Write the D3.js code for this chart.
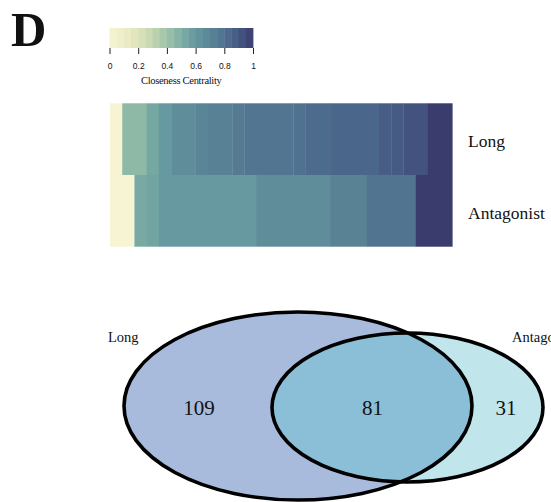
<!DOCTYPE html>
<html>
<head>
<meta charset="utf-8">
<script src="https://cdn.jsdelivr.net/npm/d3@7"></script>
<style>
  html, body { margin: 0; padding: 0; background: #fff; }
  svg { display: block; }
  text { font-family: "Liberation Serif", "Times New Roman", serif; fill: #111; }
</style>
</head>
<body>
<svg id="chart" width="551" height="502"></svg>
<script>
// Closeness centrality of the nodes in each network, sorted ascending
const rowNames = ["Long", "Antagonist"];
const longCentrality = [
  0,
  0.45, 0.45,
  0.53,
  0.60,
  0.66, 0.66,
  0.70,
  0.72, 0.72,
  0.75,
  0.77, 0.77, 0.77, 0.77,
  0.79,
  0.82, 0.82,
  0.84, 0.84, 0.84, 0.84,
  0.88,
  0.89,
  0.92, 0.92,
  1, 1
];
const antagonistCentrality = [
  0, 0,
  0.52,
  0.55,
  0.60, 0.60, 0.60, 0.60, 0.60, 0.60, 0.60, 0.60,
  0.66, 0.66, 0.66, 0.66, 0.66, 0.66,
  0.71, 0.71, 0.71,
  0.78, 0.78, 0.78, 0.78,
  1, 1, 1
];

// Colour ramp for the centrality legend
const rampStops = [0, 0.1, 0.2, 0.3, 0.4, 0.5, 0.6, 0.7, 0.8, 0.9, 1];
const rampColors = ["#f7f4d3", "#eeedc8", "#dce3bc", "#c2d6b1", "#9fc3aa",
                    "#7daea4", "#6699a0", "#5a8596", "#4f7090", "#465883", "#3a3c6d"];
const legendTicks = [0, 0.2, 0.4, 0.6, 0.8, 1];
const legendTitle = "Closeness Centrality";
const legendSteps = 20;

// Venn diagram counts
const vennSets = ["Long", "Antagonist"];
const vennCounts = { onlyLong: 109, both: 81, onlyAntagonist: 31 };
const vennColors = { long: "#a8bbdc", both: "#8bbfd8", antagonist: "#c0e6ec" };

const svg = d3.select("#chart");

const color = d3.scaleLinear().domain(rampStops).range(rampColors)
  .interpolate(d3.interpolateRgb).clamp(true);

// Panel letter
svg.append("text")
  .attr("x", 11).attr("y", 46)
  .style("font-size", "49px").style("font-weight", "bold")
  .text("D");

// ---- Colour legend ----
const legX = d3.scaleLinear().domain([0, 1]).range([109.5, 253]);
const legTop = 28, legBottom = 48;
const stepW = (legX(1) - legX(0)) / legendSteps;
svg.append("g").selectAll("rect")
  .data(d3.range(legendSteps))
  .join("rect")
  .attr("x", i => legX(0) + i * stepW)
  .attr("y", legTop)
  .attr("width", stepW + 0.4)
  .attr("height", legBottom - legTop)
  .attr("fill", i => color((i + 0.5) / legendSteps));

const legAxis = svg.append("g")
  .attr("transform", `translate(0,${legBottom})`)
  .call(d3.axisBottom(legX).tickValues(legendTicks)
        .tickFormat(d3.format("~g")).tickSize(6).tickPadding(9));
legAxis.select(".domain").remove();
legAxis.selectAll("line").attr("stroke", "#222").attr("stroke-width", 1);
legAxis.selectAll("text")
  .style("font-family", "'Liberation Sans', Arial, sans-serif")
  .style("font-size", "8.5px").attr("fill", "#222");

svg.append("text")
  .attr("x", legX(0.5)).attr("y", 84)
  .attr("text-anchor", "middle")
  .style("font-size", "10.5px").style("letter-spacing", "-0.3px")
  .text(legendTitle);

// ---- Centrality heatmap ----
const nCols = longCentrality.length;
const hx = d3.scaleLinear().domain([0, nCols]).range([110, 452.3]);
const hy = d3.scaleBand().domain(rowNames).range([103.3, 246.7]);

// merge consecutive equal values into runs so each block is drawn once
function runs(values) {
  const out = [];
  values.forEach((v, i) => {
    const last = out[out.length - 1];
    if (last && last.value === v) last.end = i + 1;
    else out.push({ value: v, start: i, end: i + 1 });
  });
  return out;
}

const rows = [
  { name: rowNames[0], values: longCentrality },
  { name: rowNames[1], values: antagonistCentrality }
];

const heat = svg.append("g");
rows.forEach(row => {
  heat.append("g").selectAll("rect")
    .data(runs(row.values))
    .join("rect")
    .attr("x", d => hx(d.start))
    .attr("y", hy(row.name))
    .attr("width", d => hx(d.end) - hx(d.start) + 0.3)
    .attr("height", hy.bandwidth())
    .attr("fill", d => color(d.value));
  heat.append("text")
    .attr("x", 468)
    .attr("y", hy(row.name) + hy.bandwidth() / 2 + 8)
    .style("font-size", "17.5px")
    .text(row.name);
});

// ---- Venn diagram ----
const longEll = { cx: 298, cy: 406, rx: 174, ry: 94 };
const antEll = { cx: 407.5, cy: 407.5, rx: 135.5, ry: 74.5 };

const defs = svg.append("defs");
defs.append("clipPath").attr("id", "clipLong")
  .append("ellipse")
  .attr("cx", longEll.cx).attr("cy", longEll.cy)
  .attr("rx", longEll.rx).attr("ry", longEll.ry);

const venn = svg.append("g");
venn.append("ellipse")
  .attr("cx", longEll.cx).attr("cy", longEll.cy)
  .attr("rx", longEll.rx).attr("ry", longEll.ry)
  .attr("fill", vennColors.long);
venn.append("ellipse")
  .attr("cx", antEll.cx).attr("cy", antEll.cy)
  .attr("rx", antEll.rx).attr("ry", antEll.ry)
  .attr("fill", vennColors.antagonist);
venn.append("ellipse")
  .attr("clip-path", "url(#clipLong)")
  .attr("cx", antEll.cx).attr("cy", antEll.cy)
  .attr("rx", antEll.rx).attr("ry", antEll.ry)
  .attr("fill", vennColors.both);
[longEll, antEll].forEach(e => {
  venn.append("ellipse")
    .attr("cx", e.cx).attr("cy", e.cy)
    .attr("rx", e.rx).attr("ry", e.ry)
    .attr("fill", "none").attr("stroke", "#000").attr("stroke-width", 3.6);
});

const countLabels = [
  { x: 199, value: vennCounts.onlyLong },
  { x: 372.5, value: vennCounts.both },
  { x: 506, value: vennCounts.onlyAntagonist }
];
venn.selectAll("text.count")
  .data(countLabels)
  .join("text")
  .attr("class", "count")
  .attr("x", d => d.x).attr("y", 415)
  .attr("text-anchor", "middle")
  .style("font-size", "21px")
  .text(d => d.value);

// set names; the right-hand one runs past the edge of the figure
venn.append("text").attr("x", 108).attr("y", 342)
  .style("font-size", "14.5px").text(vennSets[0]);
venn.append("text").attr("x", 512).attr("y", 342)
  .style("font-size", "14.5px").text(vennSets[1]);
</script>
</body>
</html>
